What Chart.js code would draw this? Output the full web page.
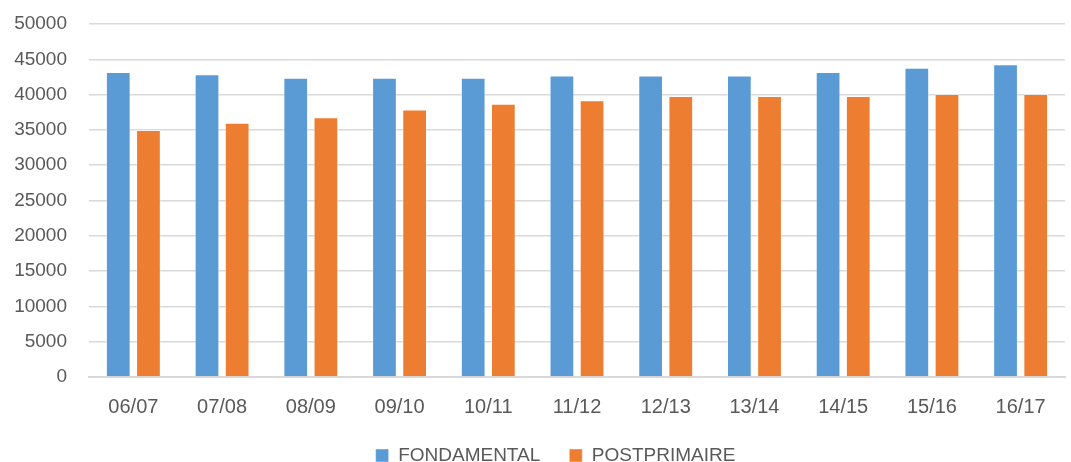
<!DOCTYPE html>
<html>
<head>
<meta charset="utf-8">
<script src="https://cdn.jsdelivr.net/npm/chart.js@4"></script>
<style>
  html, body { margin: 0; padding: 0; background: #fff; }
</style>
</head>
<body>
<canvas id="chart" width="1071" height="462"></canvas>
<script>
// school years
const years = ["06/07", "07/08", "08/09", "09/10", "10/11", "11/12", "12/13", "13/14", "14/15", "15/16", "16/17"];
// values
const fondamental = [43200, 42900, 42400, 42400, 42400, 42700, 42700, 42700, 43200, 43800, 44300];
const postprimaire = [35000, 36000, 36800, 37900, 38700, 39200, 39800, 39800, 39800, 40100, 40100];
const yTicks = [0, 5000, 10000, 15000, 20000, 25000, 30000, 35000, 40000, 45000, 50000];

const textColor = "#595959";

// nudge the legend a bit right, like in the original
const legendShift = {
  id: "legendShift",
  afterLayout(chart) {
    chart.legend.left += 23;
    chart.legend.right += 23;
  },
};

const ctx = document.getElementById("chart").getContext("2d");
new Chart(ctx, {
  type: "bar",
  data: {
    labels: years,
    datasets: [
      {
        label: "FONDAMENTAL",
        data: fondamental,
        backgroundColor: "#5B9BD5",
        borderColor: "rgba(255,255,255,0.4)",
        borderWidth: 1,
        barPercentage: 0.82,
        categoryPercentage: 0.68,
      },
      {
        label: "POSTPRIMAIRE",
        data: postprimaire,
        backgroundColor: "#ED7D31",
        borderColor: "rgba(255,255,255,0.4)",
        borderWidth: 1,
        barPercentage: 0.82,
        categoryPercentage: 0.68,
      },
    ],
  },
  plugins: [legendShift],
  options: {
    responsive: false,
    animation: false,
    layout: { padding: { top: 24, right: 6, bottom: -13, left: 0 } },
    scales: {
      x: {
        afterFit: (scale) => { scale.height = 40; },
        grid: { display: false, drawTicks: false },
        border: { color: "#d9d9d9", width: 2 },
        ticks: { color: textColor, font: { family: "Liberation Sans", size: 20 }, padding: 18 },
      },
      y: {
        min: 0,
        max: 50000,
        afterFit: (scale) => {
          scale.width = 89;
          scale.paddingTop = 0;
          scale.paddingBottom = 0;
        },
        afterBuildTicks: (scale) => { scale.ticks = yTicks.map((v) => ({ value: v })); },
        grid: { color: "#d9d9d9", lineWidth: 1.5, drawTicks: false },
        border: { display: false },
        ticks: {
          color: textColor,
          font: { family: "Liberation Sans", size: 19 },
          padding: 22,
          callback: (v) => String(v),
        },
      },
    },
    plugins: {
      legend: {
        position: "bottom",
        labels: {
          color: textColor,
          font: { family: "Liberation Sans", size: 19 },
          boxWidth: 13,
          boxHeight: 13,
          padding: 29,
        },
      },
      tooltip: { enabled: false },
    },
  },
});
</script>
</body>
</html>
